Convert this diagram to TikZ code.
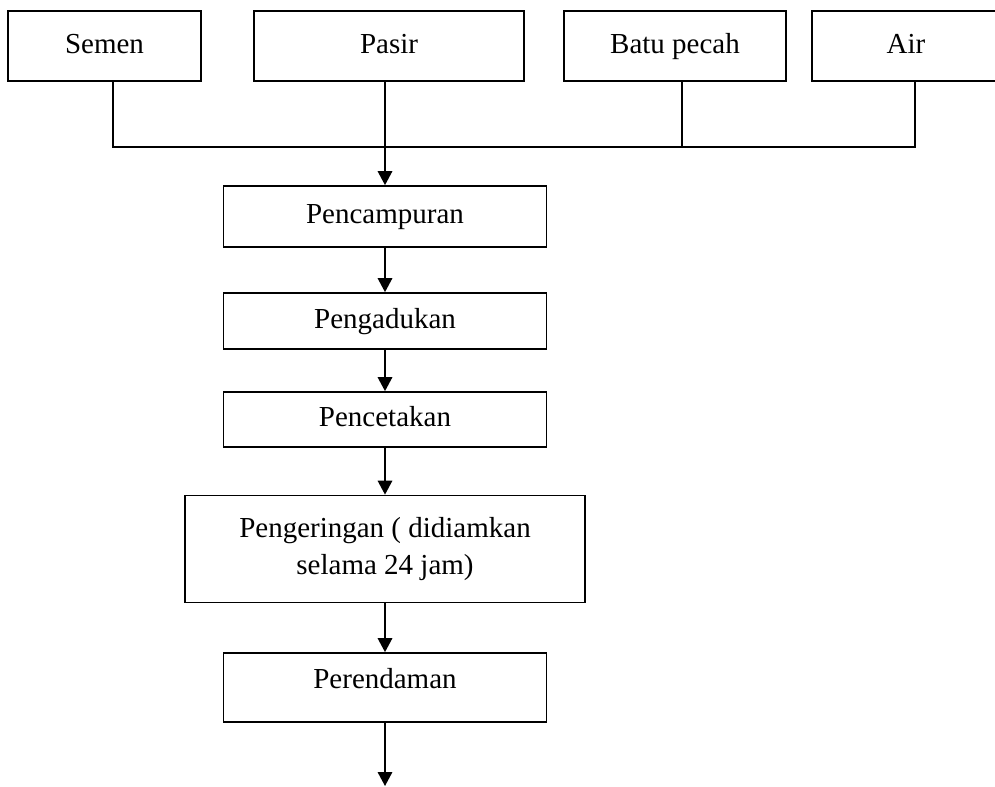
\documentclass[tikz,border=0pt]{standalone}
\usepackage{fontspec}
\setmainfont{Liberation Serif}
\usetikzlibrary{arrows.meta}

\tikzset{
    box/.style={draw, line width=1pt, inner sep=0pt, align=center,
        font=\fontsize{16.5}{21}\selectfont},
    onebox/.style={box, text height=0.41cm, text depth=0.13cm},
    link/.style={line width=1pt},
    flowarrow/.style={link, -{Triangle[width=0.29cm, length=0.28cm]}}
}

\begin{document}
\begin{tikzpicture}
            \useasboundingbox (0, 0) rectangle (19.9, -15.72);

            % bahan
            \node[onebox, minimum width=3.86cm, minimum height=1.4cm] (semen) at (2.09, -0.92) {Semen};
            \node[onebox, minimum width=5.4cm, minimum height=1.4cm] (pasir) at (7.78, -0.92) {Pasir};
            \node[onebox, minimum width=4.44cm, minimum height=1.4cm] (batu) at (13.5, -0.92) {Batu pecah};
            \node[onebox, minimum width=3.76cm, minimum height=1.4cm] (air) at (18.12, -0.92) {Air};

            % proses
            \node[onebox, minimum width=6.46cm, minimum height=1.22cm] (campur) at (7.7, -4.33) {Pencampuran};
            \node[onebox, minimum width=6.46cm, minimum height=1.12cm] (aduk) at (7.7, -6.42) {Pengadukan};
            \node[onebox, minimum width=6.46cm, minimum height=1.1cm] (cetak) at (7.7, -8.39) {Pencetakan};
            \node[box, minimum width=8cm, minimum height=2.14cm] (kering) at (7.7, -10.98) {Pengeringan ( didiamkan\\ selama 24 jam)};
            \node[onebox, text depth=0.37cm, minimum width=6.46cm, minimum height=1.38cm] (rendam) at (7.7, -13.75) {Perendaman};
            \coordinate (akhir) at (7.7, -15.72);

            \coordinate (bus1) at (2.26, -2.94);
            \coordinate (bus3) at (13.64, -2.94);
            \coordinate (bus4) at (18.3, -2.94);

            \draw[link] (semen.south -| bus1) -- (bus1) -- (bus4) -- (air.south -| bus4);
            \draw[link] (batu.south -| bus3) -- (bus3);
            \draw[flowarrow] (pasir.south -| campur.north) -- (campur.north);
            \draw[flowarrow] (campur) -- (aduk);
            \draw[flowarrow] (aduk) -- (cetak);
            \draw[flowarrow] (cetak) -- (kering);
            \draw[flowarrow] (kering) -- (rendam);
            \draw[flowarrow] (rendam) -- (akhir);

        \end{tikzpicture}
\end{document}
